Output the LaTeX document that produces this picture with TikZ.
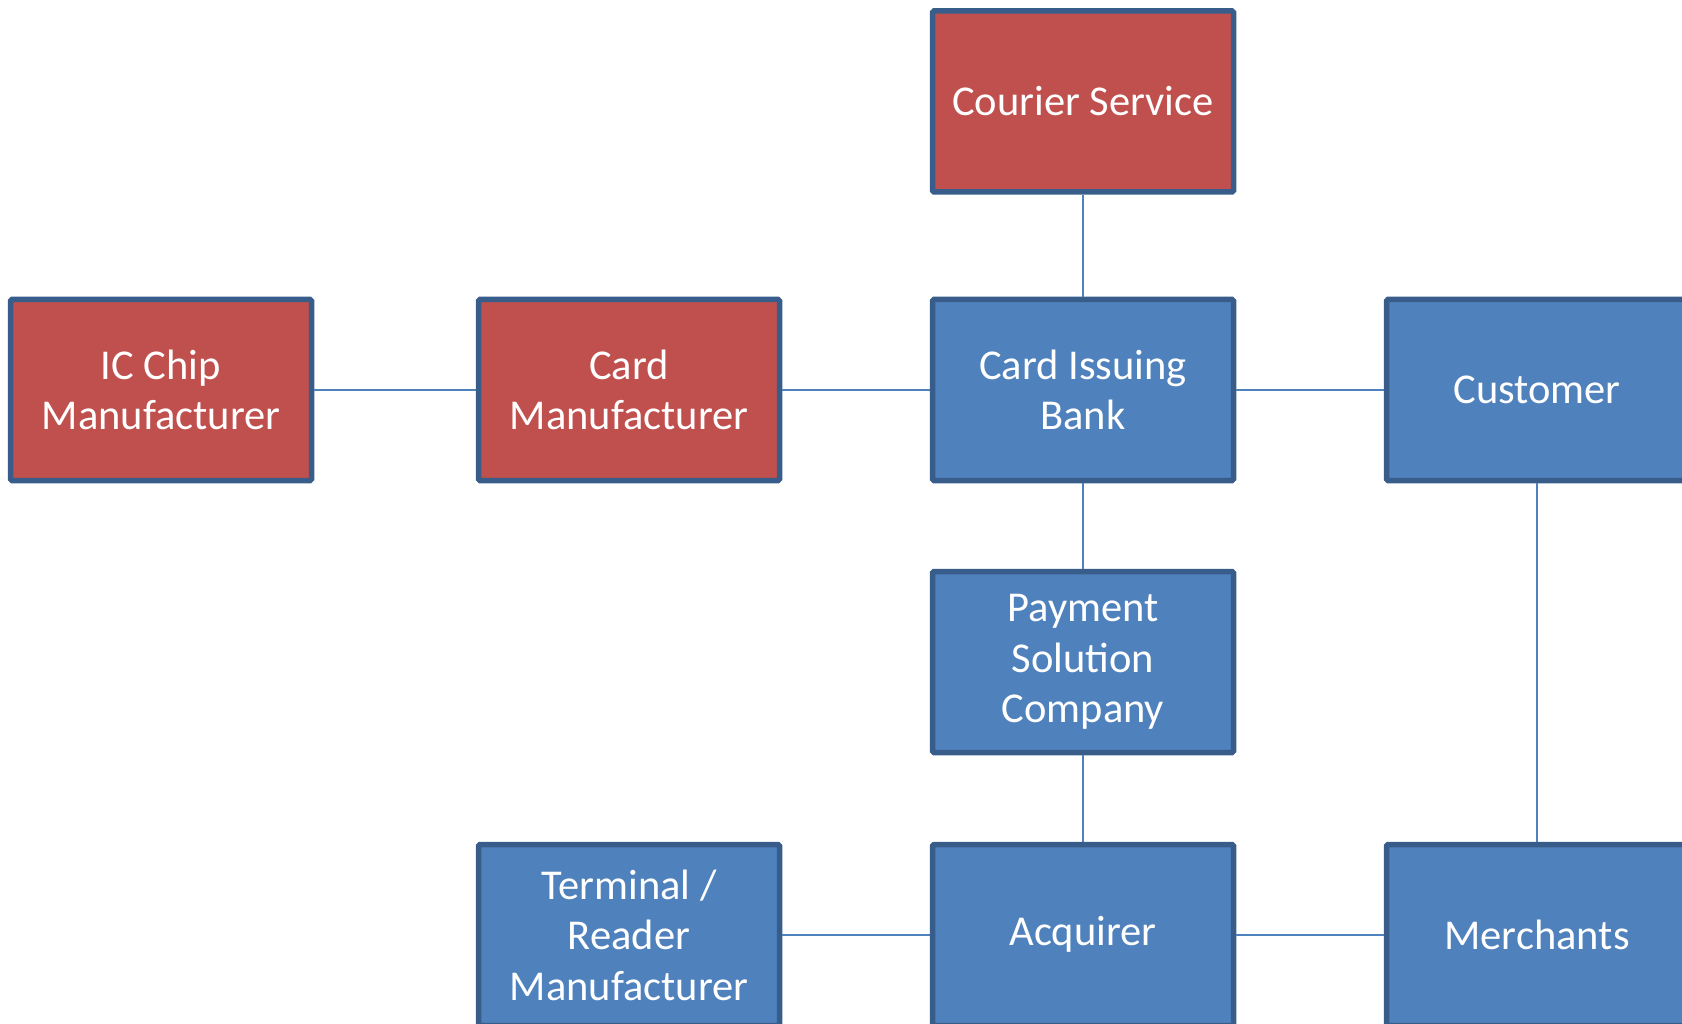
\documentclass[tikz,border=0pt]{standalone}
\usepackage{fontspec}
\setmainfont{Carlito}
\definecolor{boxred}{HTML}{C0504D}
\definecolor{boxblue}{HTML}{4F81BD}
\definecolor{edgeblue}{HTML}{385D8A}
\definecolor{linkblue}{HTML}{4F81BD}
\begin{document}
\begin{tikzpicture}[x=1pt,y=-1pt,
  entity/.style={draw=edgeblue, line width=5.5pt, rounded corners=1.5pt,
    minimum width=301pt, minimum height=181pt, inner sep=0pt,
    text=white, align=center, font=\fontsize{42.5}{50.5}\selectfont},
  redbox/.style={entity, fill=boxred},
  bluebox/.style={entity, fill=boxblue},
  link/.style={draw=linkblue, line width=2pt}]
\path[use as bounding box] (0,0) rectangle (1682,1024);
\clip (0,0) rectangle (1682,1024);

% nodes
\node[redbox]  (courier)  at (1083,101.5) {Courier Service};
\node[redbox]  (chip)     at (161,390)    {IC Chip\\Manufacturer};
\node[redbox]  (cardman)  at (629,390)    {Card\\Manufacturer};
\node[bluebox] (bank)     at (1083,390)   {Card Issuing\\Bank};
\node[bluebox] (customer) at (1537,390)   {Customer};
\node[bluebox] (payment)  at (1083,662)   {Payment\\Solution\\Company};
\node[bluebox] (terminal) at (629,935)    {Terminal /\\Reader\\Manufacturer};
\node[bluebox] (acquirer) at (1083,935)   {Acquirer\strut};
\node[bluebox] (merchant) at (1537,935)   {Merchants};

% connectors
\draw[link] (courier.south) -- (bank.north);
\draw[link] (chip.east) -- (cardman.west);
\draw[link] (cardman.east) -- (bank.west);
\draw[link] (bank.east) -- (customer.west);
\draw[link] (bank.south) -- (payment.north);
\draw[link] (payment.south) -- (acquirer.north);
\draw[link] (customer.south) -- (merchant.north);
\draw[link] (terminal.east) -- (acquirer.west);
\draw[link] (acquirer.east) -- (merchant.west);
\end{tikzpicture}
\end{document}
